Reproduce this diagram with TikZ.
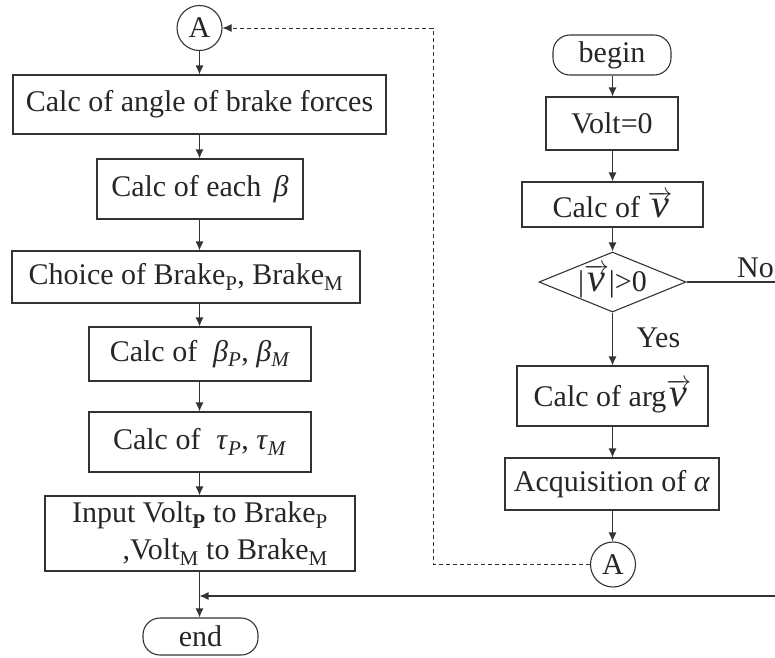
\documentclass[tikz,border=0pt]{standalone}
\usepackage{fontspec}
\setmainfont{Liberation Serif}
\usetikzlibrary{shapes.geometric,arrows.meta}
\newcommand{\bigv}{\ensuremath{\overrightarrow{\mbox{\fontsize{40}{40}\selectfont\itshape v}}}}
\begin{document}
\begin{tikzpicture}[x=1pt,y=-1pt,
  every node/.style={font=\fontsize{30}{37}\selectfont, text=black!85},
  box/.style={draw=black!80, line width=1.1pt, rectangle, inner sep=0pt},
  term/.style={box, rounded corners=17pt},
  conn/.style={draw=black!80, line width=1.1pt, circle, inner sep=0pt, minimum size=45pt},
  arr/.style={draw=black!80, line width=1.2pt, -{Latex[length=9pt,width=8pt]}},
  ln/.style={draw=black!80, line width=1.2pt},
  dashline/.style={draw=black!80, line width=0.9pt, dash pattern=on 4pt off 3pt, -{Latex[length=9pt,width=8pt]}}]
\useasboundingbox (0,0) rectangle (775,657);
% left column
\coordinate (L) at (199.5,0);
\node[conn] (A1) at (199.5,28) {A};
\node[box, minimum width=373pt, minimum height=59pt] (b1) at (199.5,104.5) {Calc of angle of brake forces};
\node[box, minimum width=206pt, minimum height=60pt] (b2) at (200,189) {Calc of each \,\textit{β}};
\node[box, minimum width=348pt, minimum height=52pt] (b3) at (186,277) {Choice of Brake\textsubscript{P}, Brake\textsubscript{M}};
\node[box, minimum width=222pt, minimum height=54pt] (b4) at (200,354) {Calc of \;\textit{β}\textsubscript{\textit{P}}, \textit{β}\textsubscript{\textit{M}}};
\node[box, minimum width=222pt, minimum height=60pt] (b5) at (200,442) {Calc of \;\textit{τ}\textsubscript{\textit{P}}, \textit{τ}\textsubscript{\textit{M}}};
\node[box, minimum width=310pt, minimum height=75pt, align=right] (b6) at (200,533.5) {Input Volt\textsubscript{\textbf{P}} to Brake\textsubscript{P}\\ ,Volt\textsubscript{M} to Brake\textsubscript{M}};
\coordinate (J) at (199.5,596);
\node[term, minimum width=115pt, minimum height=37pt] (end) at (200.5,636.5) {end};
% right column
\coordinate (R) at (612.5,0);
\node[term, minimum width=118pt, minimum height=40pt] (begin) at (612,55) {begin};
\node[box, minimum width=132pt, minimum height=53pt] (v0) at (612,123.5) {Volt=0};
\node[box, minimum width=181pt, minimum height=45pt] (cv) at (612.5,204.5) {Calc of \bigv};
\node[diamond, draw=black!80, line width=1.1pt, minimum width=147pt, minimum height=60pt, inner sep=0pt] (d) at (612.5,282) {};
\node (dt) at (612.5,281) {|\bigv|>0};
\node[box, minimum width=191pt, minimum height=60pt] (ca) at (612.5,396) {Calc of arg\bigv};
\node[box, minimum width=214pt, minimum height=52pt] (aq) at (612,484) {Acquisition of \textit{α}};
\node[conn] (A2) at (613,564.5) {A};
\node[anchor=base east, inner sep=1pt] (no) at (775,277) {No};
\node[anchor=base west] (yes) at (633,347) {Yes};
\coordinate (E1) at (775,282);
\coordinate (E2) at (775,596);
\coordinate (D2) at (433,28);
% left arrows
\draw[arr] (A1.south -| L) -- (b1.north -| L);
\draw[arr] (b1.south -| L) -- (b2.north -| L);
\draw[arr] (b2.south -| L) -- (b3.north -| L);
\draw[arr] (b3.south -| L) -- (b4.north -| L);
\draw[arr] (b4.south -| L) -- (b5.north -| L);
\draw[arr] (b5.south -| L) -- (b6.north -| L);
\draw[arr] (b6.south -| L) -- (end.north -| L);
% right arrows
\draw[arr] (begin.south -| R) -- (v0.north -| R);
\draw[arr] (v0.south -| R) -- (cv.north -| R);
\draw[arr] (cv.south -| R) -- (d.north -| R);
\draw[arr] (d.south -| R) -- (ca.north -| R);
\draw[arr] (ca.south -| R) -- (aq.north -| R);
\draw[arr] (aq.south -| R) -- (A2.north -| R);
\draw[ln] (d.east) -- (E1);
\draw[arr] (E2) -- (J);
\draw[dashline] (A2.west) -| (D2) -- (A1.east);
\end{tikzpicture}
\end{document}
